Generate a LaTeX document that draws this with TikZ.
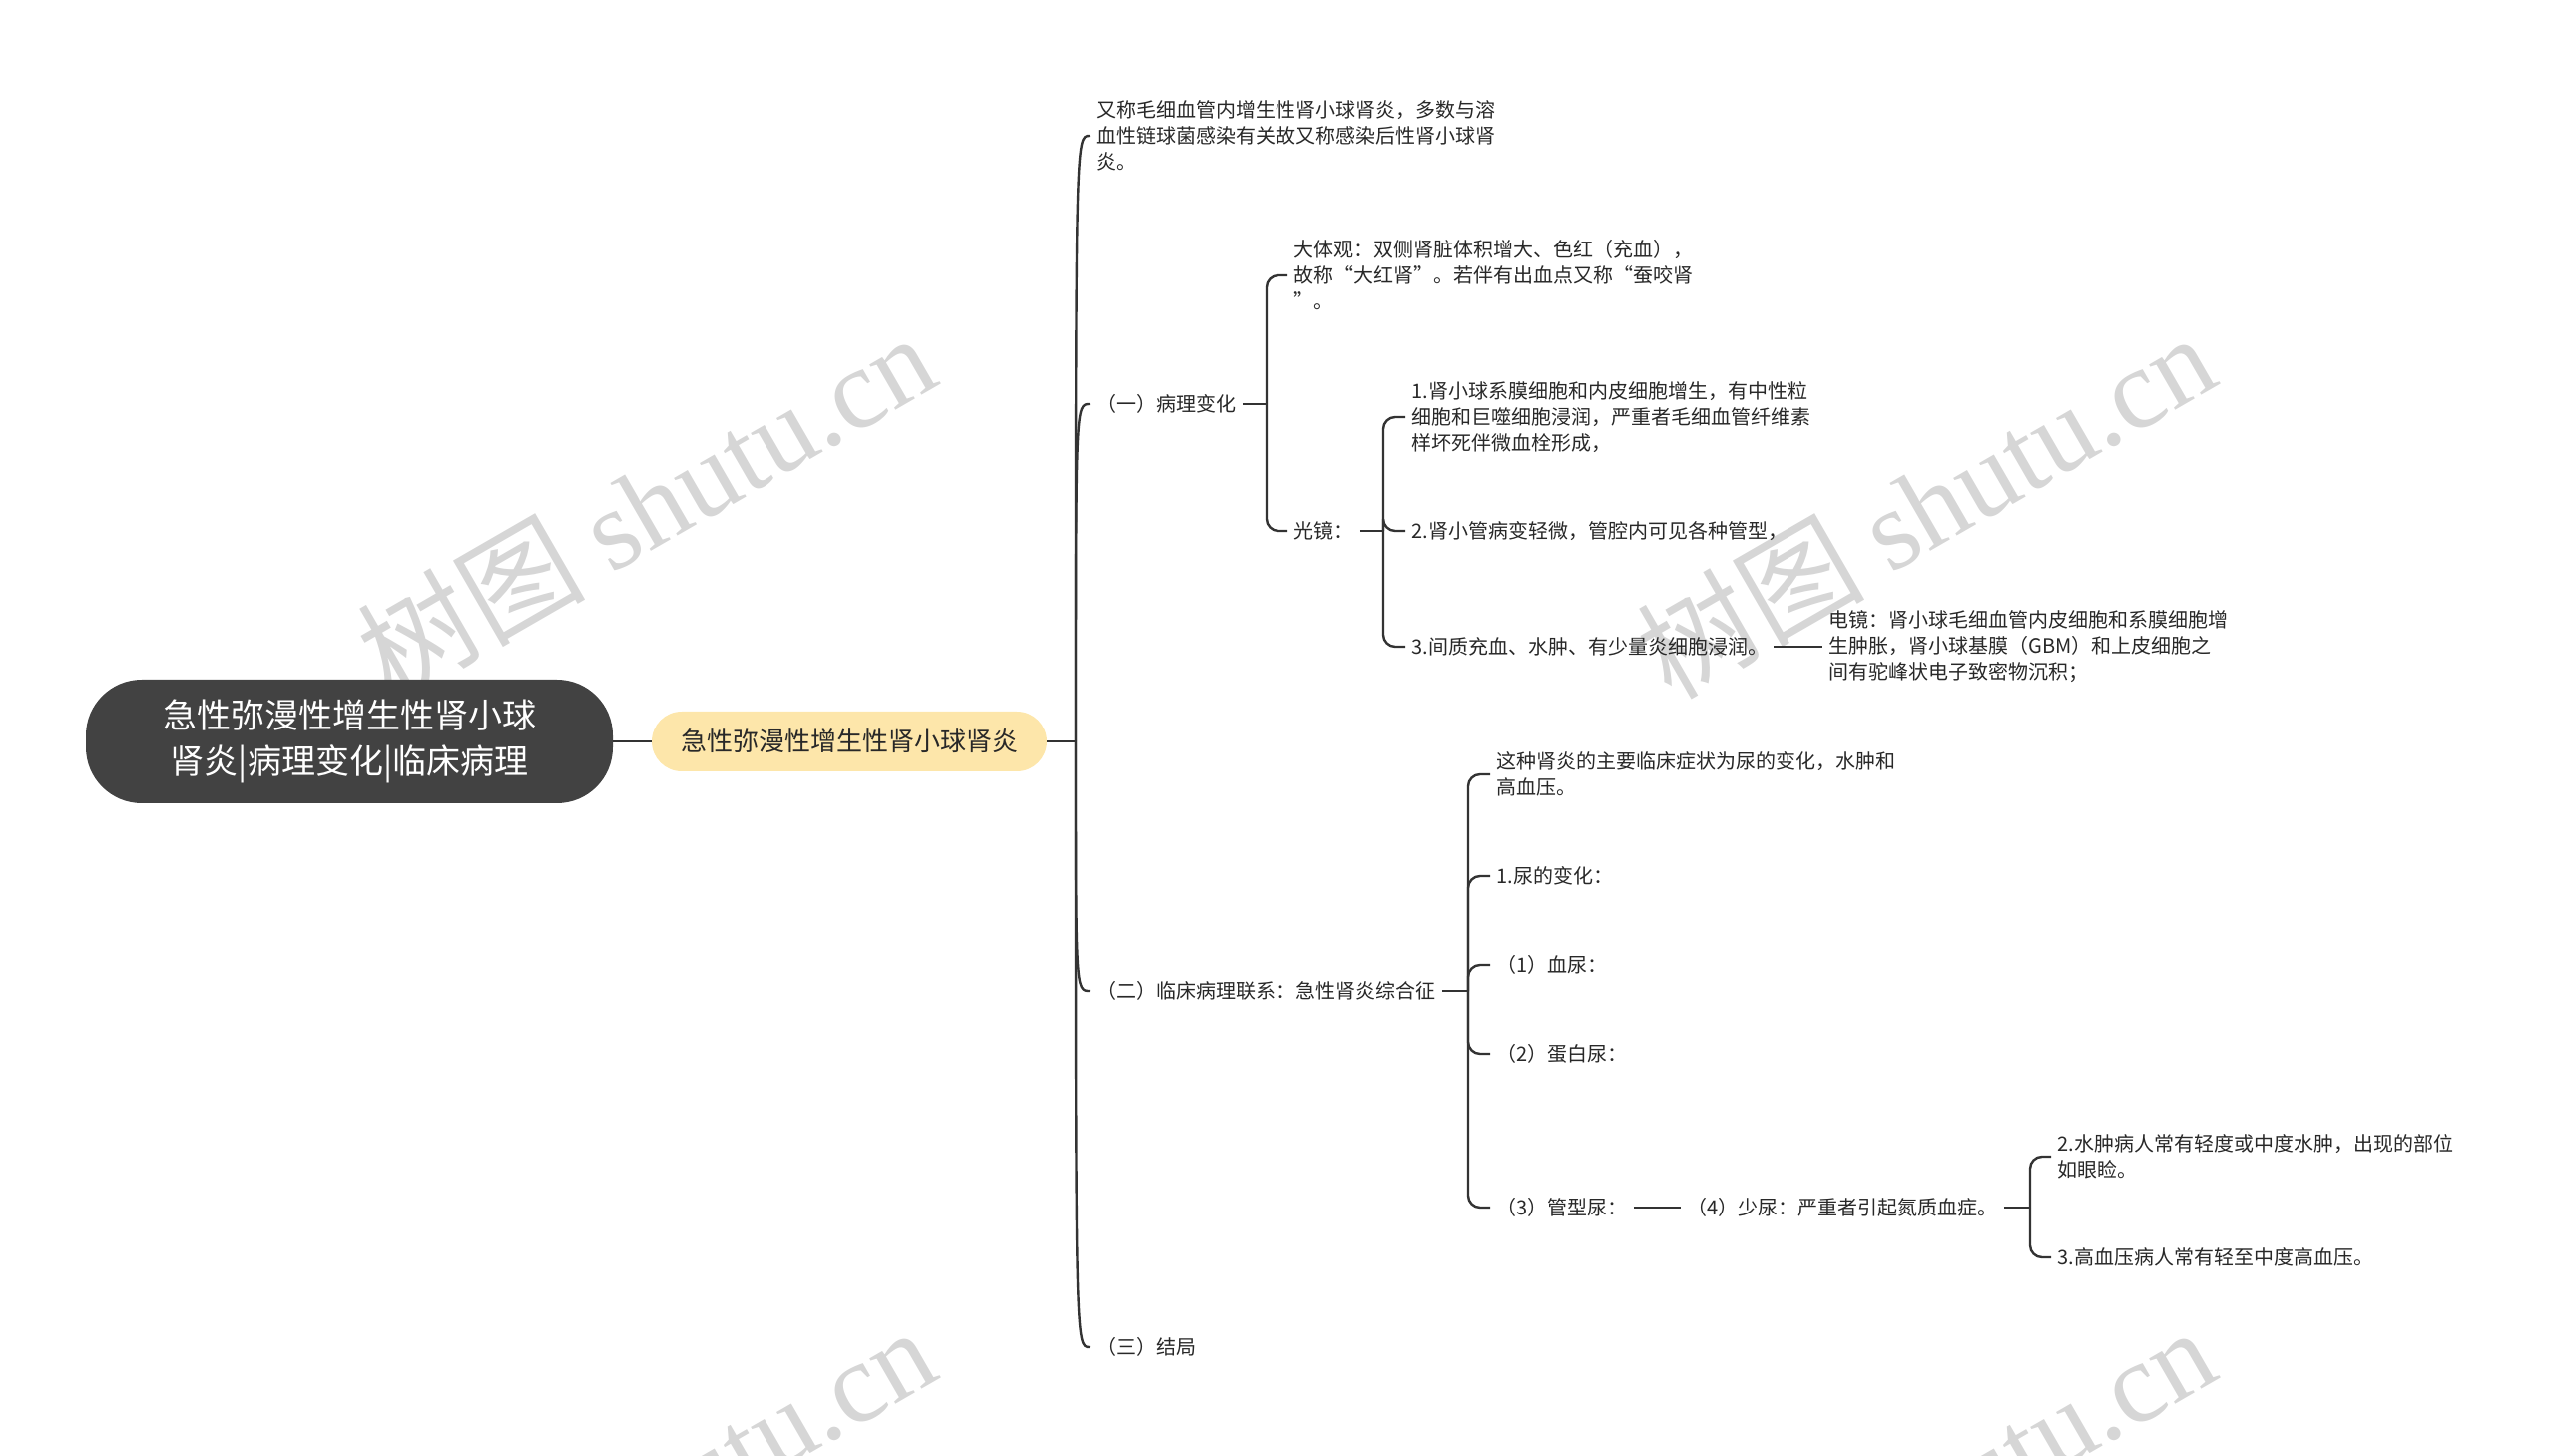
\documentclass[tikz,border=0pt]{standalone}
\usepackage{fontspec}
\setmainfont{Noto Sans CJK SC}
\newfontfamily\markfont{Liberation Serif}
\usepackage{tikz}
\usetikzlibrary{positioning,calc}
\definecolor{mapRoot}{RGB}{66, 66, 66}
\definecolor{mapTopic}{RGB}{253, 230, 170}
\definecolor{mapLine}{RGB}{51, 51, 51}
\definecolor{mapText}{RGB}{40, 40, 40}
\definecolor{mapMark}{RGB}{214, 214, 214}
\tikzset{
  leafText/.style={anchor=west, align=left, inner xsep=3pt, inner ysep=0pt, text=mapText, font=\fontsize{10}{13}\selectfont},
  linkLine/.style={draw=mapLine, line width=1.2pt},
  bracketLine/.style={linkLine, rounded corners=6pt},
  markText/.style={text=mapMark, rotate=30, inner sep=0pt, font=\fontsize{57}{60}\selectfont}
}

\begin{document}
\begin{tikzpicture}[x=0.5pt, y=-0.5pt]
        \useasboundingbox (0,0) rectangle (2560,1459);
        % Faint site watermarks behind everything
        \node[markText] (markA) at (647,506) {树图 {\markfont shutu.cn}};
        \node[markText] (markB) at (1929,506) {树图 {\markfont shutu.cn}};
        \node[markText] (markC) at (647,1502) {树图 {\markfont shutu.cn}};
        \node[markText] (markD) at (1929,1502) {树图 {\markfont shutu.cn}};
        % Dark root bubble and the gold main topic
        \node[fill=mapRoot, text=white, rounded corners=28pt, minimum width=264pt, minimum height=62pt, align=center, font=\fontsize{17}{23}\selectfont] (root) at (350,743) {急性弥漫性增生性肾小球\\肾炎|病理变化|临床病理};
        \node[fill=mapTopic, text=mapText, rounded corners=15pt, minimum width=198pt, minimum height=30pt, font=\fontsize{13}{16}\selectfont] (topic) at (851,743) {急性弥漫性增生性肾小球肾炎};
        \draw[linkLine] (root) -- (topic);
        \coordinate (hub) at (1078,743);
        \draw[linkLine] (topic) -- (hub);
        % Second level, hung on curved links
        \node[leafText] (intro) at (1092,136) {又称毛细血管内增生性肾小球肾炎，多数与溶\\血性链球菌感染有关故又称感染后性肾小球肾\\炎。};
        \node[leafText] (patho) at (1092,405) {（一）病理变化};
        \node[leafText] (clinic) at (1092,993) {（二）临床病理联系：急性肾炎综合征};
        \node[leafText] (outcome) at (1092,1350) {（三）结局};
        \foreach \n in {intro,patho,clinic,outcome}
          \draw[linkLine] (hub) .. controls (hub |- \n.west) .. (\n.west);
        % Pathology changes
        \node[leafText] (gross) at (1290,276) {大体观：双侧肾脏体积增大、色红（充血），\\故称“大红肾”。若伴有出血点又称“蚕咬肾\\”。};
        \node[leafText] (light) at (1290,532) {光镜：};
        \coordinate (pathoFork) at (1269,405);
        \draw[linkLine] (patho.east) -- (pathoFork);
        \foreach \n in {gross,light}
          \draw[bracketLine] (pathoFork) |- (\n.west);
        % Light microscopy findings
        \node[leafText] (lmOne) at (1408,418) {1.肾小球系膜细胞和内皮细胞增生，有中性粒\\细胞和巨噬细胞浸润，严重者毛细血管纤维素\\样坏死伴微血栓形成，};
        \node[leafText] (lmTwo) at (1408,532) {2.肾小管病变轻微，管腔内可见各种管型，};
        \node[leafText] (lmThree) at (1408,648) {3.间质充血、水肿、有少量炎细胞浸润。};
        \coordinate (lightFork) at (1386,532);
        \draw[linkLine] (light.east) -- (lightFork);
        \foreach \n in {lmOne,lmTwo,lmThree}
          \draw[bracketLine] (lightFork) |- (\n.west);
        % Electron microscopy
        \node[leafText] (em) at (1826,648) {电镜：肾小球毛细血管内皮细胞和系膜细胞增\\生肿胀，肾小球基膜（GBM）和上皮细胞之\\间有驼峰状电子致密物沉积；};
        \draw[linkLine] (lmThree.east) -- (em.west);
        % Clinical links
        \node[leafText] (symptom) at (1493,776) {这种肾炎的主要临床症状为尿的变化，水肿和\\高血压。};
        \node[leafText] (urine) at (1493,878) {1.尿的变化：};
        \node[leafText] (hematuria) at (1493,967) {（1）血尿：};
        \node[leafText] (protein) at (1493,1056) {（2）蛋白尿：};
        \node[leafText] (casts) at (1493,1210) {（3）管型尿：};
        \coordinate (clinicFork) at (1471,993);
        \draw[linkLine] (clinic.east) -- (clinicFork);
        \foreach \n in {symptom,urine,hematuria,protein,casts}
          \draw[bracketLine] (clinicFork) |- (\n.west);
        % Oliguria and what follows
        \node[leafText] (oliguria) at (1684,1210) {（4）少尿：严重者引起氮质血症。};
        \draw[linkLine] (casts.east) -- (oliguria.west);
        \node[leafText] (edema) at (2055,1159) {2.水肿病人常有轻度或中度水肿，出现的部位\\如眼睑。};
        \node[leafText] (pressure) at (2055,1260) {3.高血压病人常有轻至中度高血压。};
        \coordinate (oliguriaFork) at (2034,1210);
        \draw[linkLine] (oliguria.east) -- (oliguriaFork);
        \foreach \n in {edema,pressure}
          \draw[bracketLine] (oliguriaFork) |- (\n.west);
    \end{tikzpicture}
\end{document}
